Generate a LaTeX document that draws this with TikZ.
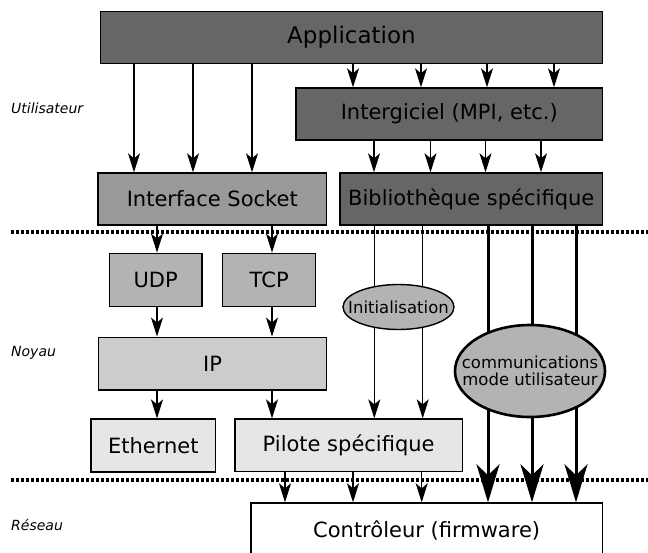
\documentclass[tikz,border=0pt]{standalone}
\usepackage{fontspec}
\setmainfont{DejaVu Sans}
\usetikzlibrary{arrows.meta,shapes.geometric}
\definecolor{gdark}{HTML}{666666}
\definecolor{gmid}{HTML}{999999}
\definecolor{gudp}{HTML}{B3B3B3}
\definecolor{gip}{HTML}{CCCCCC}
\definecolor{glight}{HTML}{E6E6E6}
\tikzset{
  box/.style={draw=black, line width=1.4pt, rectangle, inner sep=0pt, text=black,
    font=\fontsize{21}{25}\selectfont},
  ell/.style={draw=black, ellipse, inner xsep=-40pt, inner ysep=-20pt, fill=gudp, text=black,
    font=\fontsize{16.5}{17}\selectfont, align=center},
  thinarrow/.style={line width=1.1pt, -{Stealth[length=19pt,width=12pt,inset=5pt]}},
  thickarrow/.style={line width=3pt, -{Stealth[length=38pt,width=23pt,inset=11pt]}},
  sep/.style={line width=4pt, dash pattern=on 3pt off 2pt},
  layer/.style={font=\fontsize{14}{16}\selectfont\itshape, anchor=west, inner sep=0pt}
}
\begin{document}
\begin{tikzpicture}[x=1pt,y=-1pt]
\clip (0,0) rectangle (648,552);
\fill[white] (0,0) rectangle (648,552);

% column coordinates
\foreach \n/\x in {a/134,b/193,c/252,d/353,e/421,f/487,g/554,
                   h/374,i/430.5,j/485.5,k/541,
                   l/157,m/272,
                   n/374.3,o/422.7,
                   p/488,q/532,r/576,
                   s/285,t/353,u/421.7}
  \coordinate (x\n) at (\x,0);

% boxes
\node[box, fill=gdark, minimum width=502pt, minimum height=51.5pt,
      font=\fontsize{23}{27}\selectfont] (app) at (351.5,37.5) {Application};
\node[box, fill=gdark, minimum width=306.5pt, minimum height=52pt] (mid) at (449.25,114) {Intergiciel (MPI, etc.)};
\node[box, fill=gmid, minimum width=228.5pt, minimum height=52pt] (sock) at (212.25,199) {Interface Socket};
\node[box, fill=gdark, minimum width=262.5pt, minimum height=52pt] (lib) at (471.25,199) {Bibliothèque spécifique};
\node[box, fill=gudp, minimum width=92.7pt, minimum height=53.5pt] (udp) at (155.65,280) {UDP};
\node[box, fill=gudp, minimum width=93pt, minimum height=53.5pt] (tcp) at (269.2,280) {TCP};
\node[box, fill=gip, minimum width=228.4pt, minimum height=52.7pt] (ip) at (212.5,363.6) {IP};
\node[box, fill=glight, minimum width=124.7pt, minimum height=53pt] (eth) at (153.35,445.6) {Ethernet};
\node[box, fill=glight, minimum width=227.3pt, minimum height=52.7pt] (pil) at (348.65,445.4) {Pilote spécifique};
\node[box, fill=white, minimum width=351.3pt, minimum height=54pt] (ctl) at (426.65,530) {Contrôleur (firmware)};

% layer labels
\node[layer] (lu) at (11,108) {Utilisateur};
\node[layer] (ln) at (11,353) {Noyau};
\node[layer] (lr) at (11,525) {Réseau};

% Application -> Interface Socket
\foreach \c in {a,b,c}
  \draw[thinarrow] (app.south -| x\c) -- (sock.north -| x\c);
% Application -> Intergiciel
\foreach \c in {d,e,f,g}
  \draw[thinarrow] (app.south -| x\c) -- (mid.north -| x\c);
% Intergiciel -> Bibliotheque
\foreach \c in {h,i,j,k}
  \draw[thinarrow] (mid.south -| x\c) -- (lib.north -| x\c);
% Socket -> UDP / TCP
\draw[thinarrow] (sock.south -| xl) -- (udp.north -| xl);
\draw[thinarrow] (sock.south -| xm) -- (tcp.north -| xm);
% UDP / TCP -> IP
\draw[thinarrow] (udp.south -| xl) -- (ip.north -| xl);
\draw[thinarrow] (tcp.south -| xm) -- (ip.north -| xm);
% IP -> Ethernet / Pilote
\draw[thinarrow] (ip.south -| xl) -- (eth.north -| xl);
\draw[thinarrow] (ip.south -| xm) -- (pil.north -| xm);
% Bibliotheque -> Pilote (through Initialisation)
\foreach \c in {n,o}
  \draw[thinarrow] (lib.south -| x\c) -- (pil.north -| x\c);
% Bibliotheque -> Controleur (through communications)
\foreach \c in {p,q,r}
  \draw[thickarrow] (lib.south -| x\c) -- (ctl.north -| x\c);
% Pilote -> Controleur
\foreach \c in {s,t,u}
  \draw[thinarrow] (pil.south -| x\c) -- (ctl.north -| x\c);

% ellipses
\node[ell, line width=1.4pt, minimum width=111pt, minimum height=45pt] (init) at (398.5,307) {Initialisation};
\node[ell, line width=2.6pt, minimum width=150pt, minimum height=92pt] (comm) at (530,371) {communications\\mode utilisateur};

% separators
\coordinate (s1a) at (11,232);
\coordinate (s1b) at (648,232);
\coordinate (s2a) at (11,480);
\coordinate (s2b) at (648,480);
\draw[sep] (s1a) -- (s1b);
\draw[sep] (s2a) -- (s2b);
\end{tikzpicture}
\end{document}
